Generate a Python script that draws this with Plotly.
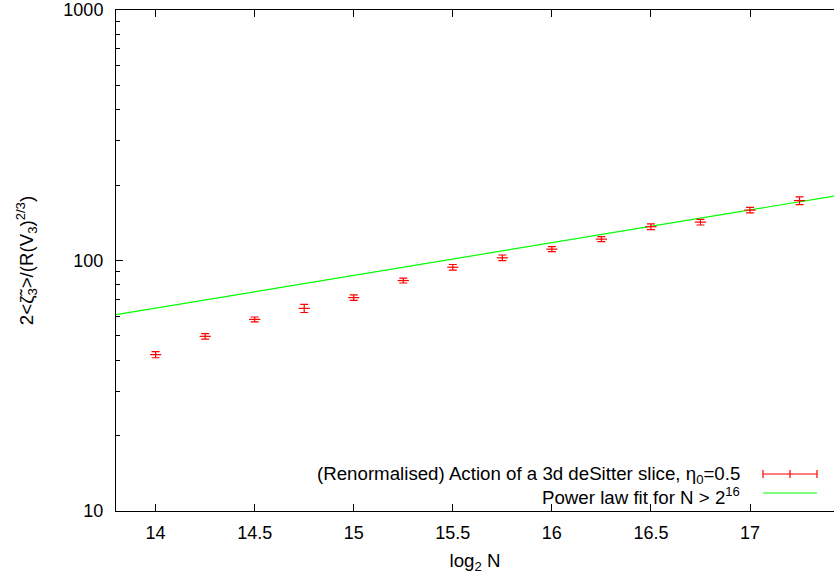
import plotly.graph_objects as go

# ---- data ----
log2N = [14.0, 14.25, 14.5, 14.75, 15.0, 15.25, 15.5, 15.75, 16.0, 16.25, 16.5, 16.75, 17.0, 17.25]
action = [42.1, 49.8, 58.2, 64.4, 71.1, 83.2, 94.0, 102.5, 111.0, 121.7, 136.4, 142.3, 158.9, 173.4]
action_err = [1.2, 1.3, 1.3, 2.4, 1.8, 1.9, 2.4, 2.7, 2.5, 2.8, 3.5, 3.7, 4.0, 6.2]

fit_x = [13.8, 17.424]
fit_y = [60.8, 180.7]

x_ticks = [14, 14.5, 15, 15.5, 16, 16.5, 17]
x_tick_labels = ["14", "14.5", "15", "15.5", "16", "16.5", "17"]
y_ticks = [10, 100, 1000]
y_tick_labels = ["10", "100", "1000"]
y_minor = [20, 30, 40, 50, 60, 70, 80, 90, 200, 300, 400, 500, 600, 700, 800, 900]

legend_labels = ["(Renormalised) Action of a 3d deSitter slice, η<sub>0</sub>=0.5",
                 "Power law fit for N &gt; 2<sup>16</sup>"]

# ---- layout geometry (pixels) ----
W, H = 834, 574
L, R, T, B = 116, 834, 10, 511
FONT = "Liberation Sans, Arial, Helvetica, sans-serif"
FS = 18
FS_TXT = 18.7


def px(xp):
    return (xp - L) / (R - L)


def py(yp):
    return (B - yp) / (B - T)


fig = go.Figure()

fig.add_trace(go.Scatter(
    x=fit_x, y=fit_y, mode="lines",
    line=dict(color="#00ff00", width=1.2),
    showlegend=False, hoverinfo="skip",
))

fig.add_trace(go.Scatter(
    x=log2N, y=action, mode="markers",
    marker=dict(symbol="line-ew", size=8, color="red",
                line=dict(color="red", width=1.2)),
    error_y=dict(type="data", array=action_err, visible=True,
                 color="red", thickness=1.2, width=4),
    showlegend=False,
))

axis_common = dict(
    showgrid=False, zeroline=False,
    showline=True, linecolor="black", linewidth=1,
    ticks="inside", ticklen=7, tickwidth=1, tickcolor="black",
    tickfont=dict(family=FONT, size=FS, color="black"),
)

fig.update_xaxes(
    **axis_common,
    range=[13.8, 17.424],
    tickmode="array", tickvals=x_ticks, ticktext=x_tick_labels,
    mirror="ticks",
    ticklabelstandoff=5,
    title=dict(text="log<sub>2</sub> N", font=dict(family=FONT, size=FS_TXT, color="black"),
               standoff=12),
)

fig.update_yaxes(
    **axis_common,
    type="log",
    range=[1, 3],
    tickmode="array", tickvals=y_ticks, ticktext=y_tick_labels,
    ticklabelstandoff=8,
    minor=dict(tickmode="array", tickvals=y_minor, ticks="inside",
               ticklen=4, tickwidth=1, tickcolor="black"),
    title=dict(text="2&lt;ζ̃<sub>3</sub>&gt;/(R(V<sub>3</sub>)<sup>2/3</sup>)",
               font=dict(family=FONT, size=FS_TXT, color="black"), standoff=24),
)

# gnuplot-style key: right-aligned text, sample to the right
annotations = []
shapes = []
rows_y = [475, 496]
for lbl, yy in zip(legend_labels, rows_y):
    annotations.append(dict(
        xref="paper", yref="paper", x=px(742), y=py(yy),
        xanchor="right", yanchor="middle", showarrow=False,
        text=lbl, font=dict(family=FONT, size=FS_TXT, color="black"),
    ))

# red errorbar sample
ry = py(474)
cap = 4 / (B - T)
shapes.append(dict(type="line", xref="paper", yref="paper",
                   x0=px(763), x1=px(817), y0=ry, y1=ry,
                   line=dict(color="red", width=1.2)))
for xc in (763, 790, 817):
    shapes.append(dict(type="line", xref="paper", yref="paper",
                       x0=px(xc), x1=px(xc), y0=ry - cap, y1=ry + cap,
                       line=dict(color="red", width=1.2)))
# green line sample
gy = py(493)
shapes.append(dict(type="line", xref="paper", yref="paper",
                   x0=px(763), x1=px(817), y0=gy, y1=gy,
                   line=dict(color="#00ff00", width=1.2)))

fig.update_layout(
    width=W, height=H,
    margin=dict(l=L, r=W - R, t=T, b=H - B),
    paper_bgcolor="white", plot_bgcolor="white",
    showlegend=False,
    annotations=annotations, shapes=shapes,
    font=dict(family=FONT, size=FS, color="black"),
)

fig.write_html("out.html")
